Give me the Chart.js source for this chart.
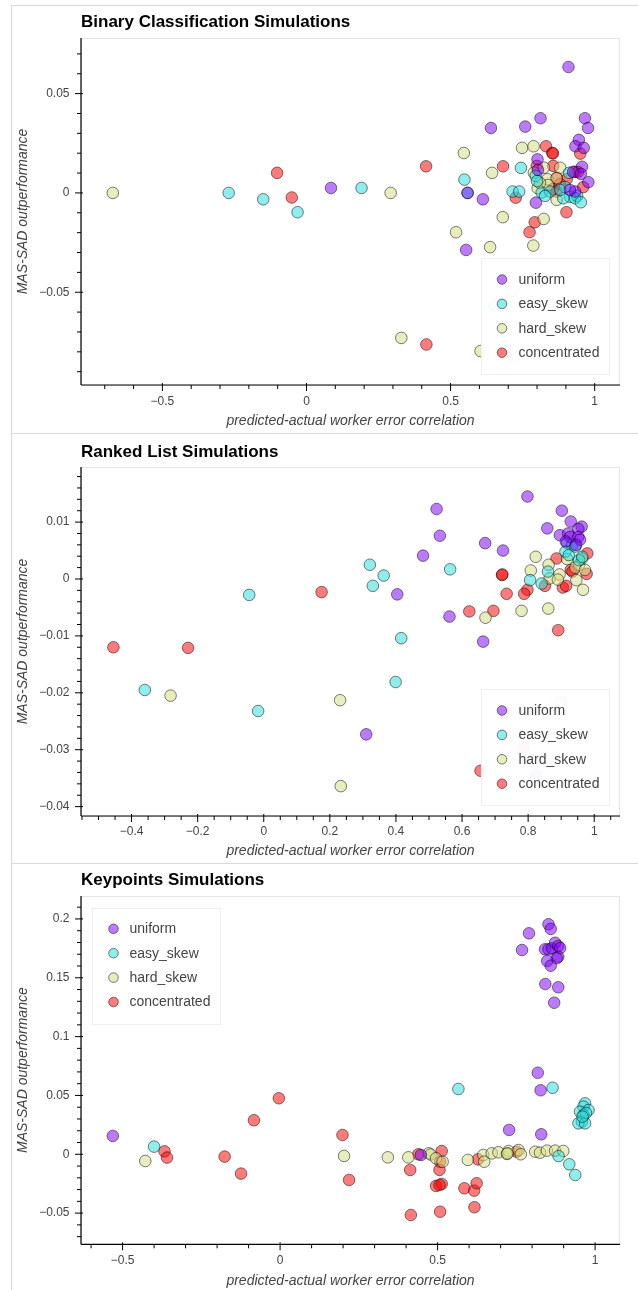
<!DOCTYPE html>
<html><head><meta charset="utf-8">
<script src="https://cdn.jsdelivr.net/npm/chart.js@4.4.1/dist/chart.umd.min.js"></script>
<style>
html,body{margin:0;padding:0;background:#fff;width:638px;height:1290px;overflow:hidden;position:relative;font-family:"Liberation Sans",Arial,sans-serif}
canvas{position:absolute;left:0}
.hl{position:absolute;left:11px;right:0;height:1px;background:#d9d9d9}
.vl{position:absolute;left:11px;width:1px;background:#d9d9d9}
</style></head><body>
<div class="hl" style="top:5px"></div>
<div class="hl" style="top:433px"></div>
<div class="hl" style="top:863px"></div>
<div class="vl" style="top:5px;height:1285px"></div>
<canvas id="c1" width="638" height="430" style="top:0px;width:638px;height:430px"></canvas>
<canvas id="c2" width="638" height="430" style="top:430px;width:638px;height:430px"></canvas>
<canvas id="c3" width="638" height="430" style="top:860px;width:638px;height:430px"></canvas>
<script>
// ---------- series names ----------
const seriesNames = ['uniform', 'easy_skew', 'hard_skew', 'concentrated'];

// ---------- Binary Classification: [correlation, outperformance] ----------
const binaryUniform = [[0.085,0.0025],[0.559,0.0],[0.554,-0.0287],[0.612,-0.0032],[0.640,0.0327],[0.759,0.0334],[0.812,0.0376],[0.909,0.0634],[0.966,0.0376],[0.977,0.0327],[0.945,0.0267],[0.933,0.0235],[0.962,0.0227],[0.956,0.0132],[0.978,0.0054],[0.8015,0.0169],[0.803,0.0116],[0.796,-0.0049],[0.925,0.0106],[0.932,0.0007],[0.914,0.0015],[0.952,0.0096]];
const binaryEasy = [[-0.270,0.0],[-0.150,-0.0032],[-0.031,-0.0097],[0.191,0.0025],[0.548,0.0067],[0.559,0.0],[0.715,0.0007],[0.738,0.0007],[0.744,0.0126],[0.795,0.0086],[0.800,0.006],[0.816,0.0002],[0.845,0.0007],[0.911,0.0101],[0.897,0.003],[0.914,-0.002],[0.939,-0.0015],[0.891,-0.0027],[0.932,-0.0027],[0.952,-0.0047],[0.880,0.0015],[0.828,-0.0015],[0.652,-0.0565]];
const binaryHard = [[-0.672,0.0],[0.292,0.0],[0.329,-0.073],[0.546,0.0201],[0.519,-0.0198],[0.637,-0.0273],[0.644,0.0101],[0.681,-0.0122],[0.748,0.0227],[0.788,0.0235],[0.787,-0.0265],[0.823,-0.0131],[0.789,0.0102],[0.824,0.0127],[0.880,0.0127],[0.836,0.0069],[0.868,0.0074],[0.802,0.0024],[0.868,-0.0035],[0.604,-0.0796],[0.717,-0.0821],[0.714,-0.0493],[0.838,0.004],[0.810,0.005]];
const binaryConc = [[-0.102,0.0101],[-0.051,-0.0023],[0.416,-0.0763],[0.415,0.0134],[0.682,0.0134],[0.726,-0.0024],[0.792,-0.0148],[0.774,-0.0198],[0.902,-0.0097],[0.831,0.0235],[0.853,0.0201],[0.855,0.0199],[0.950,0.0198],[0.799,0.0136],[0.856,0.0136],[0.868,0.0076],[0.903,0.0069],[0.932,0.0106],[0.942,0.0106],[0.855,0.0019],[0.868,0.0007],[0.960,0.0029],[0.880,0.0045]];

// ---------- Ranked List ----------
const rankedUniform = [[0.798,0.0145],[0.523,0.0123],[0.533,0.0076],[0.482,0.0041],[0.670,0.0063],[0.724,0.0050],[0.404,-0.0027],[0.562,-0.0066],[0.664,-0.0110],[0.310,-0.0273],[0.902,0.0120],[0.929,0.0101],[0.858,0.0089],[0.962,0.0092],[0.952,0.0088],[0.896,0.0077],[0.921,0.0080],[0.927,0.0074],[0.952,0.0074],[0.957,0.0069],[0.914,0.0066],[0.945,0.0060],[0.825,-0.0345]];
const rankedEasy = [[-0.044,-0.0028],[-0.360,-0.0195],[-0.017,-0.0232],[0.321,0.0025],[0.363,0.0006],[0.330,-0.0012],[0.564,0.0017],[0.416,-0.0104],[0.399,-0.0181],[0.918,0.0063],[0.933,0.0060],[0.913,0.0048],[0.923,0.0042],[0.943,0.0057],[0.954,0.0033],[0.964,0.0039],[0.860,0.0013],[0.806,-0.0002],[0.841,-0.0008],[0.898,-0.0216]];
const rankedHard = [[-0.282,-0.0205],[0.231,-0.0213],[0.233,-0.0364],[0.671,-0.0068],[0.780,-0.0056],[0.861,-0.0052],[0.823,0.0039],[0.808,0.0015],[0.862,0.0025],[0.865,0.0001],[0.918,0.0035],[0.954,0.0025],[0.943,0.0020],[0.966,-0.0019],[0.946,-0.0002],[0.963,0.0036],[0.972,0.0016],[0.895,0.0008],[0.890,-0.0001]];
const rankedConc = [[-0.455,-0.0120],[-0.229,-0.0121],[0.175,-0.0023],[0.721,0.0007],[0.722,0.0008],[0.622,-0.0057],[0.695,-0.0056],[0.735,-0.0026],[0.798,-0.0019],[0.788,-0.0026],[0.851,-0.0012],[0.886,0.0036],[0.891,-0.0090],[0.905,-0.0015],[0.915,-0.0012],[0.979,0.0045],[0.977,0.0009],[0.929,0.0016],[0.934,0.0013],[0.785,-0.0296],[0.656,-0.0337]];

// ---------- Keypoints ----------
const keyUniform = [[-0.531,0.0156],[0.447,-0.0006],[0.727,0.0207],[0.829,0.0170],[0.818,0.0693],[0.827,0.0544],[0.852,0.1955],[0.859,0.1915],[0.790,0.1878],[0.768,0.1736],[0.841,0.1742],[0.852,0.1742],[0.863,0.1751],[0.873,0.1798],[0.883,0.1770],[0.889,0.1753],[0.883,0.1679],[0.878,0.1666],[0.848,0.1643],[0.859,0.1603],[0.842,0.1447],[0.883,0.1419],[0.870,0.1288]];
const keyEasy = [[-0.400,0.0065],[0.566,0.0555],[0.865,0.0565],[0.884,-0.0015],[0.918,-0.0085],[0.937,-0.0176],[0.968,0.0433],[0.963,0.0405],[0.979,0.0376],[0.952,0.0362],[0.963,0.0334],[0.958,0.0277],[0.947,0.0263],[0.968,0.0263],[0.971,0.0351],[0.960,0.0320]];
const keyHard = [[-0.428,-0.0057],[0.203,-0.0014],[0.342,-0.0026],[0.407,-0.0026],[0.472,0.0008],[0.478,-0.0002],[0.495,-0.0034],[0.516,-0.0063],[0.596,-0.0048],[0.645,-0.0006],[0.648,-0.0063],[0.672,0.0008],[0.693,0.0017],[0.725,0.0028],[0.720,0.0003],[0.757,0.0036],[0.764,0.0],[0.810,0.0022],[0.825,0.0014],[0.847,0.0031],[0.873,0.0031],[0.899,0.0028],[0.722,0.0008]];
const keyConc = [[-0.367,0.0025],[-0.359,-0.0028],[-0.176,-0.0020],[-0.124,-0.0164],[-0.083,0.0289],[-0.004,0.0476],[0.198,0.0164],[0.219,-0.0218],[0.413,-0.0133],[0.415,-0.0516],[0.439,0.0],[0.513,0.0028],[0.508,-0.0063],[0.506,-0.0133],[0.495,-0.0269],[0.513,-0.0252],[0.506,-0.0261],[0.508,-0.0488],[0.585,-0.0289],[0.616,-0.0309],[0.624,-0.0246],[0.617,-0.0450],[0.628,-0.0043],[0.751,0.0022]];

// ---------- axes: ranges & major tick labels ----------
const binaryXRange = [-0.7824, 1.0878], binaryYRange = [-0.0967, 0.0780];
const binaryXTicks = [-0.5, 0, 0.5, 1], binaryYTicks = [-0.05, 0, 0.05];
const rankedXRange = [-0.553, 1.078], rankedYRange = [-0.04165, 0.01968];
const rankedXTicks = [-0.4, -0.2, 0, 0.2, 0.4, 0.6, 0.8, 1], rankedYTicks = [-0.04, -0.03, -0.02, -0.01, 0, 0.01];
const keyXRange = [-0.632, 1.079], keyYRange = [-0.0765, 0.2195];
const keyXTicks = [-0.5, 0, 0.5, 1], keyYTicks = [-0.05, 0, 0.05, 0.1, 0.15, 0.2];

const xTitle = 'predicted-actual worker error correlation';
const yTitle = 'MAS-SAD outperformance';

// ---------- styling ----------
const fills = ['rgba(128,0,255,0.52)', 'rgba(42,221,221,0.52)', 'rgba(212,221,128,0.52)', 'rgba(255,0,0,0.52)'];
const edge = 'rgba(0,0,0,0.5)';
const FONT = '"Liberation Sans", Arial, Helvetica, sans-serif';
Chart.defaults.font.family = FONT;

function fmt(v) {
  if (v === 0) return '0';
  return (v < 0 ? '\u2212' : '') + String(Math.abs(v));
}

const bokehPlugin = {
  id: 'bokeh',
  beforeDatasetsDraw(chart) {
    const ctx = chart.ctx, a = chart.chartArea;
    ctx.save();
    ctx.strokeStyle = '#e5e5e5'; ctx.lineWidth = 1;
    ctx.strokeRect(Math.round(a.left) + 0.5, Math.round(a.top) + 0.5, Math.round(a.right - a.left) - 1, Math.round(a.bottom - a.top));
    ctx.restore();
  },
  afterDatasetsDraw(chart, args, o) {
    const ctx = chart.ctx, a = chart.chartArea, L = o.legend;
    const bx = L.corner === 'br' ? a.right - L.dx - L.w : a.left + L.dx;
    const by = L.corner === 'br' ? a.bottom - L.dy - L.h : a.top + L.dy;
    ctx.save();
    ctx.fillStyle = 'rgba(255,255,255,0.95)';
    ctx.fillRect(bx, by, L.w, L.h);
    ctx.strokeStyle = 'rgba(229,229,229,0.6)'; ctx.lineWidth = 1;
    ctx.strokeRect(Math.round(bx) + 0.5, Math.round(by) + 0.5, L.w, L.h);
    ctx.font = '14px ' + FONT; ctx.textBaseline = 'middle'; ctx.textAlign = 'left';
    seriesNames.forEach((name, i) => {
      const cy = by + L.first + i * L.row;
      ctx.beginPath(); ctx.arc(bx + L.mx, cy, 4.8, 0, Math.PI * 2);
      ctx.fillStyle = fills[i]; ctx.fill();
      ctx.strokeStyle = edge; ctx.stroke();
      ctx.fillStyle = '#444';
      ctx.fillText(name, bx + L.tx, cy + 0.5);
    });
    ctx.restore();
  },
  afterDraw(chart, args, o) {
    const ctx = chart.ctx, a = chart.chartArea, xs = chart.scales.x, ys = chart.scales.y;
    ctx.save();
    ctx.strokeStyle = '#000'; ctx.lineWidth = 1.2;
    ctx.beginPath();
    ctx.moveTo(a.left, a.top); ctx.lineTo(a.left, a.bottom);
    ctx.moveTo(a.left, a.bottom); ctx.lineTo(a.right, a.bottom);
    ctx.stroke();
    ctx.lineWidth = 1;
    ctx.beginPath();
    const isMajor = (v, arr) => arr.some(m => Math.abs(m - v) < 1e-9);
    const xMinStep = o.xMinor;
    for (let k = Math.ceil(xs.min / xMinStep - 1e-9); k * xMinStep <= xs.max + 1e-9; k++) {
      const v = k * xMinStep, p = xs.getPixelForValue(v);
      if (isMajor(v, o.xMajor)) { ctx.moveTo(p, a.bottom - 2); ctx.lineTo(p, a.bottom + 6); }
      else { ctx.moveTo(p, a.bottom); ctx.lineTo(p, a.bottom + 4); }
    }
    const yMinStep = o.yMinor;
    for (let k = Math.ceil(ys.min / yMinStep - 1e-9); k * yMinStep <= ys.max + 1e-9; k++) {
      const v = k * yMinStep, p = ys.getPixelForValue(v);
      if (isMajor(v, o.yMajor)) { ctx.moveTo(a.left + 2, p); ctx.lineTo(a.left - 6, p); }
      else { ctx.moveTo(a.left, p); ctx.lineTo(a.left - 4, p); }
    }
    ctx.stroke();
    ctx.restore();
  }
};

function makeChart(id, c) {
  const sets = [c.u, c.e, c.h, c.r].map((arr, i) => ({
    label: seriesNames[i],
    data: arr.map(p => ({ x: p[0], y: p[1] })),
    backgroundColor: fills[i],
    borderColor: edge,
    borderWidth: 1,
    pointRadius: 5.8,
    pointHoverRadius: 5.8
  }));
  return new Chart(document.getElementById(id), {
    type: 'scatter',
    data: { datasets: sets },
    plugins: [bokehPlugin],
    options: {
      responsive: false,
      animation: false,
      events: [],
      layout: { padding: { left: 12, right: 18, top: 0, bottom: 0 } },
      plugins: {
        legend: { display: false },
        tooltip: { enabled: false },
        title: {
          display: true, text: c.title, align: 'start', fullSize: false,
          color: '#000', font: { size: 17, weight: 'bold', family: FONT, lineHeight: 1.2 },
          padding: { top: c.tTop, bottom: c.tBot }
        },
        bokeh: { xMajor: c.xTicks, yMajor: c.yTicks, xMinor: c.xMinor, yMinor: c.yMinor, legend: c.legend }
      },
      scales: {
        x: {
          type: 'linear', min: c.xRange[0], max: c.xRange[1],
          afterBuildTicks: s => { s.ticks = c.xTicks.map(v => ({ value: v })); },
          afterFit: s => { s.height = c.xH; },
          ticks: { callback: v => fmt(v), color: '#444', font: { size: 12, family: FONT }, padding: c.xPad, maxRotation: 0, autoSkip: false },
          grid: { display: true, drawOnChartArea: false, drawTicks: true, tickLength: 6, tickColor: 'rgba(0,0,0,0)' },
          border: { display: false },
          title: { display: true, text: xTitle, color: '#444', font: { size: 14, style: 'italic', family: FONT, lineHeight: 1.2 }, padding: { top: 0, bottom: 0 } }
        },
        y: {
          type: 'linear', min: c.yRange[0], max: c.yRange[1],
          afterBuildTicks: s => { s.ticks = c.yTicks.map(v => ({ value: v })); },
          afterFit: s => { s.width = 69; },
          ticks: { callback: v => fmt(v), color: '#444', font: { size: 12, family: FONT }, padding: 5.5, autoSkip: false },
          grid: { display: true, drawOnChartArea: false, drawTicks: true, tickLength: 6, tickColor: 'rgba(0,0,0,0)' },
          border: { display: false },
          title: { display: true, text: yTitle, color: '#444', font: { size: 14, style: 'italic', family: FONT, lineHeight: 1.2 }, padding: { top: 3, bottom: 0 } }
        }
      }
    }
  });
}

const legendBR = { corner: 'br', w: 128, h: 116, dx: 11, dy: 11, first: 21.5, row: 24.4, mx: 21, tx: 37.5 };
const legendTL = { corner: 'tl', w: 128, h: 116, dx: 11, dy: 11.5, first: 21.3, row: 24.4, mx: 21.5, tx: 37.5 };

makeChart('c1', { title: 'Binary Classification Simulations', u: binaryUniform, e: binaryEasy, h: binaryHard, r: binaryConc,
  xRange: binaryXRange, yRange: binaryYRange, xTicks: binaryXTicks, yTicks: binaryYTicks, xMinor: 0.1, yMinor: 0.01,
  tTop: 11.8, tBot: 5.8, xH: 45, xPad: 3.7, legend: legendBR });
makeChart('c2', { title: 'Ranked List Simulations', u: rankedUniform, e: rankedEasy, h: rankedHard, r: rankedConc,
  xRange: rankedXRange, yRange: rankedYRange, xTicks: rankedXTicks, yTicks: rankedYTicks, xMinor: 0.05, yMinor: 0.002,
  tTop: 11.8, tBot: 4.8, xH: 44, xPad: 2.7, legend: legendBR });
makeChart('c3', { title: 'Keypoints Simulations', u: keyUniform, e: keyEasy, h: keyHard, r: keyConc,
  xRange: keyXRange, yRange: keyYRange, xTicks: keyXTicks, yTicks: keyYTicks, xMinor: 0.1, yMinor: 0.01,
  tTop: 10.5, tBot: 5.1, xH: 45.7, xPad: 3.2, legend: legendTL });
</script>
</body></html>
